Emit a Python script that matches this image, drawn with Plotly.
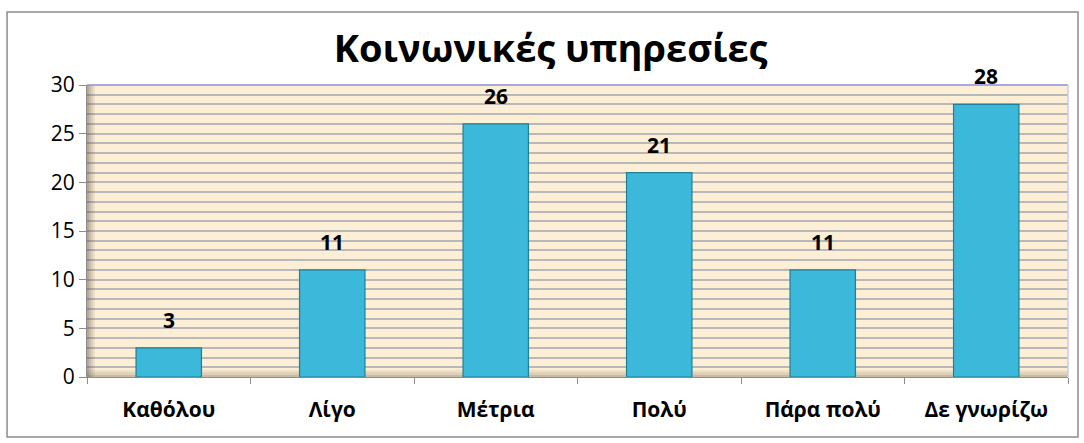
import plotly.graph_objects as go

categories = ["Καθόλου", "Λίγο", "Μέτρια", "Πολύ", "Πάρα πολύ", "Δε γνωρίζω"]
values = [3, 11, 26, 21, 11, 28]
y_ticks = [0, 5, 10, 15, 20, 25, 30]
title_text = "Κοινωνικές υπηρεσίες"

FONT = "Open Sans"

fig = go.Figure()
fig.add_trace(go.Bar(
    x=categories, y=values, width=0.4,
    marker=dict(color="#3cb9da", line=dict(color="#1f7f96", width=1.2)),
    hoverinfo="x+y",
))

for c, v in zip(categories, values):
    fig.add_annotation(x=c, y=v, text=f"<b>{v}</b>", showarrow=False,
                       yshift=28, font=dict(family=FONT, size=21, color="#000"))

# left wall / floor shading (gradient imitation)
wall = []
for i, op in enumerate([0.45, 0.32, 0.2, 0.1]):
    wall.append(dict(type="rect", xref="paper", yref="paper",
                     x0=0.002 * i, x1=0.002 * (i + 1), y0=0, y1=1,
                     fillcolor=f"rgba(90,80,70,{op})", line=dict(width=0),
                     layer="above"))
for i, op in enumerate([0.35, 0.2, 0.1]):
    wall.append(dict(type="rect", xref="paper", yref="paper",
                     x0=0, x1=1, y0=0.008 * i, y1=0.008 * (i + 1),
                     fillcolor=f"rgba(110,95,70,{op})", line=dict(width=0),
                     layer="below"))

fig.update_layout(
    width=1084, height=443,
    margin=dict(l=87, r=16, t=85, b=66),
    paper_bgcolor="white",
    plot_bgcolor="#fcefd6",
    showlegend=False,
    title=dict(text=f"<b>{title_text}</b>", x=0.508, xanchor="center",
               y=0.89, yanchor="middle",
               font=dict(family=FONT, size=38, color="#000")),
    xaxis=dict(
        showgrid=False, showline=True, linecolor="#8c8c8c", linewidth=1,
        ticks="outside", tickson="boundaries", ticklen=6, tickcolor="#8c8c8c",
        tickfont=dict(family=FONT, size=21, color="#000", weight="bold"),
        ticklabelstandoff=14,
    ),
    yaxis=dict(
        range=[0, 30], tickvals=y_ticks, showgrid=False,
        showline=True, linecolor="#8c8c8c", linewidth=1,
        ticks="outside", ticklen=7, tickcolor="#8c8c8c",
        tickfont=dict(family=FONT, size=21, color="#000"),
        zeroline=False,
        minor=dict(dtick=1, showgrid=True, gridcolor="#b8b8b8", gridwidth=1.5),
    ),
    shapes=wall + [
        dict(type="rect", xref="paper", yref="paper", x0=-0.0815, x1=1.0102,
             y0=-0.2055, y1=1.25, line=dict(color="#8c8c8c", width=1.5),
             fillcolor="rgba(0,0,0,0)", layer="below"),
        dict(type="line", xref="paper", yref="paper", x0=0, x1=1, y0=1, y1=1,
             line=dict(color="#8f8fd8", width=1.5)),
        dict(type="line", xref="paper", yref="paper", x0=1, x1=1, y0=0, y1=1,
             line=dict(color="#c8c8f0", width=1.5)),
    ],
)

fig.write_html("out.html",
               config={"displayModeBar": False},
               post_script="document.body.style.margin='0';document.body.style.overflow='hidden';")
